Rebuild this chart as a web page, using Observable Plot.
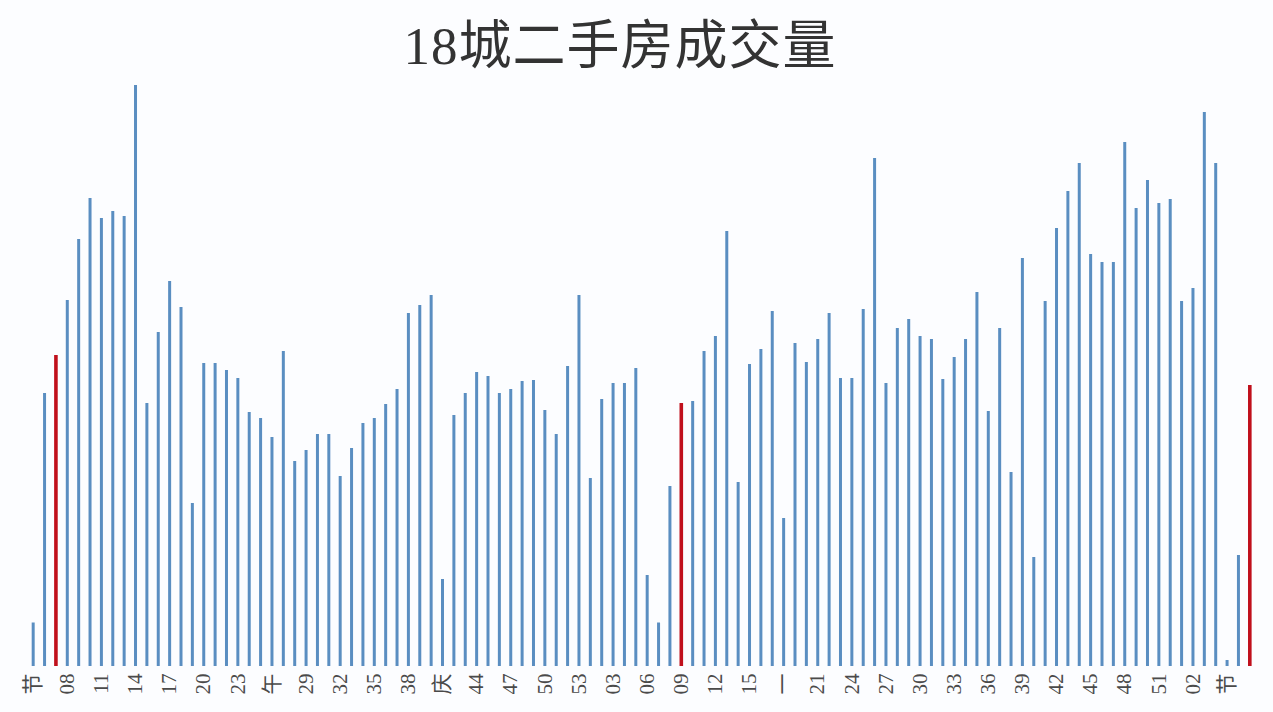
<!DOCTYPE html>
<html>
<head>
<meta charset="utf-8">
<script src="https://cdn.jsdelivr.net/npm/d3@7"></script>
<script src="https://cdn.jsdelivr.net/npm/@observablehq/plot@0.6"></script>
<style>
  html, body { margin: 0; padding: 0; background: #fcfdff; overflow: hidden; }
  #wrap { position: relative; width: 1273px; height: 712px; }
  #title { position: absolute; top: 0; left: 620px; transform: translateX(-50%); height: 80px; line-height: 92px;
    font-family: "Liberation Serif", "Noto Sans CJK SC", serif; font-size: 53px; color: #333; white-space: nowrap; letter-spacing: 1px; }
  #chart { position: absolute; top: 80px; left: 0; }
  #chart svg text { font-family: "Liberation Serif", "Noto Sans CJK SC", serif; }
</style>
</head>
<body>
<div id="wrap">
  <div id="title">18城二手房成交量</div>
  <div id="chart"></div>
</div>
<script>
// Week labels for every bar (holiday weeks: 节=春节, 午=端午, 庆=国庆, 一=五一)
const weeks = [
  "节","06","07","08","09","10","11","12","13","14","15","16","17","18","19","20","21","22","23","24","25",
  "午","27","28","29","30","31","32","33","34","35","36","37","38","39","40","庆","42","43","44","45","46",
  "47","48","49","50","51","52","53",
  "01","02","03","04","05","06","07","08","09","10","11","12","13","14","15","16","17","一","19","20","21",
  "22","23","24","25","26","27","28","29","30","31","32","33","34","35","36","37","38","39","40","41","42",
  "43","44","45","46","47","48","49","50","51","52",
  "01","02","03","04","节","06","07"
];
// Weekly transaction volume (arbitrary units)
const volume = [
  435,2730,3110,3660,4270,4680,4480,4550,4500,5810,2630,3340,3850,3590,1630,3030,3030,2960,2880,2540,2480,
  2290,3150,2050,2160,2320,2320,1900,2180,2430,2480,2620,2770,3530,3610,3710,870,2510,2730,2940,2900,2730,
  2770,2850,2860,2560,2320,3000,3710,
  1880,2670,2830,2830,2980,910,435,1800,2630,2650,3150,3300,4350,1840,3020,3170,3550,1480,3230,3040,3270,
  3530,2880,2880,3570,5080,2830,3380,3470,3300,3270,2870,3090,3270,3740,2550,3380,1940,4080,1090,3650,4380,
  4750,5030,4120,4040,4040,5240,4580,4860,4630,4670,
  3650,3780,5540,5030,60,1110,2810
];
// Highlighted (red) weeks by position
const highlighted = [2, 57, 107];

const data = volume.map((v, i) => ({i, week: weeks[i], v, hot: highlighted.includes(i)}));

const chart = Plot.plot({
  width: 1273,
  height: 632,
  marginLeft: 27,
  marginRight: 18,
  marginTop: 0,
  marginBottom: 46,
  style: {background: "transparent"},
  x: {type: "band", domain: d3.range(volume.length), padding: 0},
  y: {domain: [0, 5860], axis: null},
  marks: [
    Plot.ruleX(data.filter(d => !d.hot), {x: "i", y: "v", stroke: "#5a8ec1", strokeWidth: 3}),
    Plot.ruleX(data.filter(d => d.hot), {x: "i", y: "v", stroke: "#c0101c", strokeWidth: 3.6}),
    Plot.axisX({
      ticks: d3.range(0, volume.length, 3),
      tickFormat: i => weeks[i],
      tickRotate: -90,
      tickSize: 0,
      tickPadding: 7,
      fontSize: 21,
      fill: "#4a4a4a",
      label: null
    })
  ]
});
document.getElementById("chart").appendChild(chart);
</script>
</body>
</html>
